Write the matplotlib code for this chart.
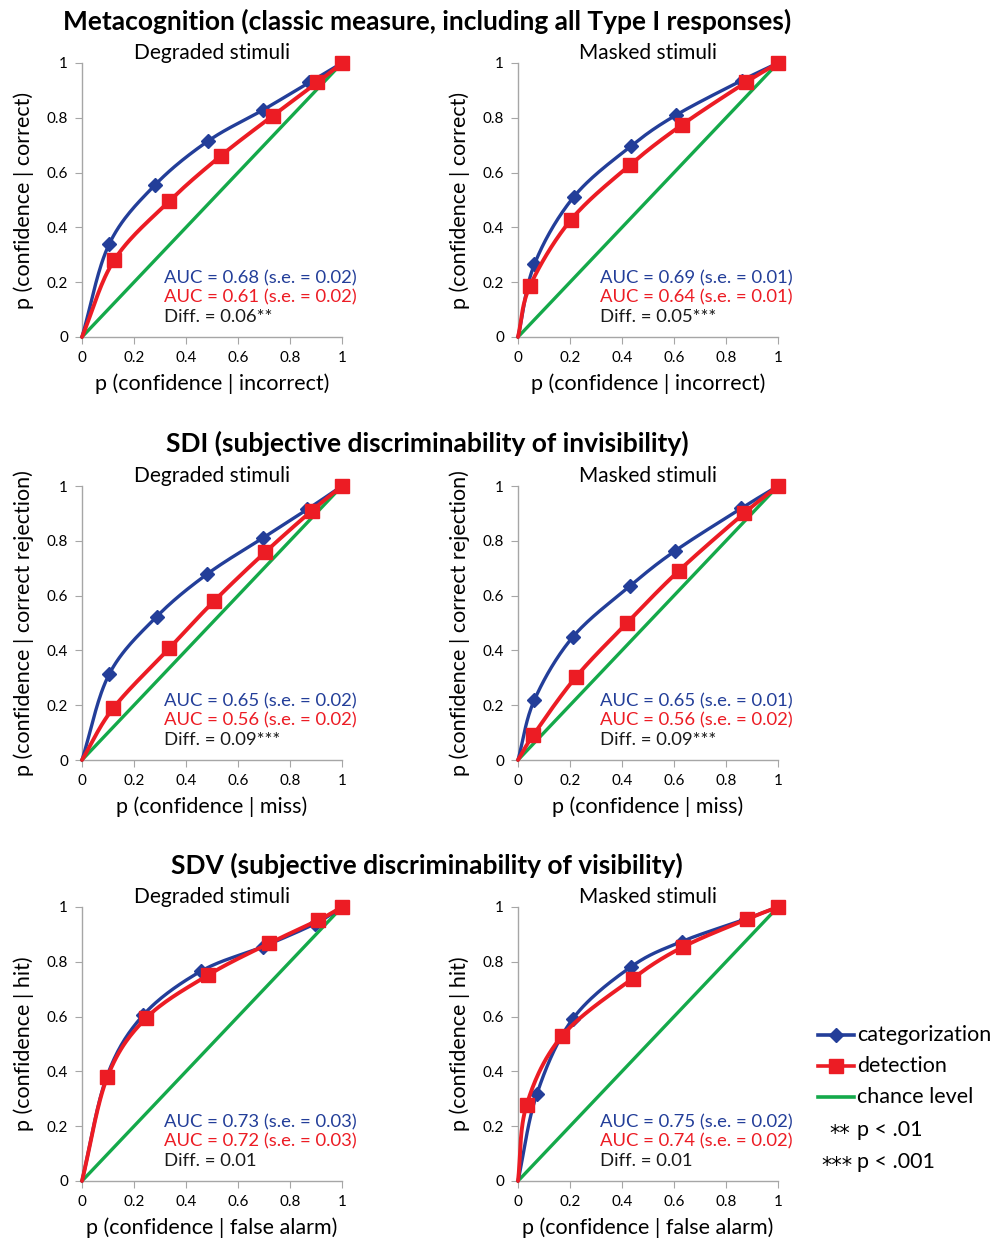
import numpy as np
import matplotlib
matplotlib.use("Agg")
import matplotlib.pyplot as plt

plt.rcParams['font.family'] = ['Lato', 'DejaVu Sans']

BLUE = '#233E99'
RED = '#EC1C24'
GREEN = '#14A94A'
AXGREY = '#A6A6A6'

# ---------------- data ----------------
row_titles = ["Metacognition (classic measure, including all Type I responses)",
              "SDI (subjective discriminability of invisibility)",
              "SDV (subjective discriminability of visibility)"]
col_titles = ["Degraded stimuli", "Masked stimuli"]
ylabels = ["p (confidence | correct)", "p (confidence | correct rejection)", "p (confidence | hit)"]
xlabels = ["p (confidence | incorrect)", "p (confidence | miss)", "p (confidence | false alarm)"]
tick_vals = [0, 0.2, 0.4, 0.6, 0.8, 1]
tick_labels = ['0', '0.2', '0.4', '0.6', '0.8', '1']

# Metacognition, degraded
meta_deg_cat_x = [0, 0.105, 0.281, 0.486, 0.695, 0.874, 1]
meta_deg_cat_y = [0, 0.340, 0.555, 0.716, 0.828, 0.929, 1]
meta_deg_det_x = [0, 0.124, 0.336, 0.535, 0.733, 0.905, 1]
meta_deg_det_y = [0, 0.281, 0.496, 0.662, 0.807, 0.929, 1]
# Metacognition, masked
meta_msk_cat_x = [0, 0.063, 0.215, 0.435, 0.608, 0.860, 1]
meta_msk_cat_y = [0, 0.265, 0.512, 0.697, 0.810, 0.936, 1]
meta_msk_det_x = [0, 0.046, 0.203, 0.431, 0.630, 0.876, 1]
meta_msk_det_y = [0, 0.186, 0.427, 0.628, 0.774, 0.929, 1]
# SDI, degraded
sdi_deg_cat_x = [0, 0.105, 0.287, 0.482, 0.697, 0.867, 1]
sdi_deg_cat_y = [0, 0.314, 0.523, 0.679, 0.811, 0.915, 1]
sdi_deg_det_x = [0, 0.120, 0.336, 0.509, 0.704, 0.883, 1]
sdi_deg_det_y = [0, 0.189, 0.408, 0.581, 0.758, 0.909, 1]
# SDI, masked
sdi_msk_cat_x = [0, 0.063, 0.210, 0.431, 0.604, 0.858, 1]
sdi_msk_cat_y = [0, 0.219, 0.448, 0.635, 0.763, 0.918, 1]
sdi_msk_det_x = [0, 0.059, 0.222, 0.420, 0.619, 0.869, 1]
sdi_msk_det_y = [0, 0.091, 0.302, 0.501, 0.691, 0.900, 1]
# SDV, degraded
sdv_deg_cat_x = [0, 0.095, 0.236, 0.458, 0.695, 0.896, 1]
sdv_deg_cat_y = [0, 0.380, 0.606, 0.766, 0.855, 0.939, 1]
sdv_deg_det_x = [0, 0.097, 0.246, 0.486, 0.719, 0.909, 1]
sdv_deg_det_y = [0, 0.378, 0.594, 0.752, 0.867, 0.952, 1]
# SDV, masked
sdv_msk_cat_x = [0, 0.072, 0.210, 0.435, 0.630, 0.876, 1]
sdv_msk_cat_y = [0, 0.316, 0.591, 0.782, 0.874, 0.956, 1]
sdv_msk_det_x = [0, 0.033, 0.170, 0.441, 0.636, 0.882, 1]
sdv_msk_det_y = [0, 0.277, 0.530, 0.739, 0.855, 0.956, 1]

auc_cat = [["0.68", "0.69"], ["0.65", "0.65"], ["0.73", "0.75"]]
se_cat = [["0.02", "0.01"], ["0.02", "0.01"], ["0.03", "0.02"]]
auc_det = [["0.61", "0.64"], ["0.56", "0.56"], ["0.72", "0.74"]]
se_det = [["0.02", "0.01"], ["0.02", "0.02"], ["0.03", "0.02"]]
diffs = [["0.06**", "0.05***"], ["0.09***", "0.09***"], ["0.01", "0.01"]]

series = [
    [((meta_deg_cat_x, meta_deg_cat_y), (meta_deg_det_x, meta_deg_det_y)),
     ((meta_msk_cat_x, meta_msk_cat_y), (meta_msk_det_x, meta_msk_det_y))],
    [((sdi_deg_cat_x, sdi_deg_cat_y), (sdi_deg_det_x, sdi_deg_det_y)),
     ((sdi_msk_cat_x, sdi_msk_cat_y), (sdi_msk_det_x, sdi_msk_det_y))],
    [((sdv_deg_cat_x, sdv_deg_cat_y), (sdv_deg_det_x, sdv_deg_det_y)),
     ((sdv_msk_cat_x, sdv_msk_cat_y), (sdv_msk_det_x, sdv_msk_det_y))],
]


def smooth(xs, ys, n=30):
    """Catmull-Rom curve through the points (rendering like Excel's smoothed line)."""
    P = np.column_stack([xs, ys]).astype(float)
    P = np.vstack([P[0] - (P[1] - P[0]), P, P[-1] + (P[-1] - P[-2])])
    out = []
    for i in range(1, len(P) - 2):
        p0, p1, p2, p3 = P[i - 1], P[i], P[i + 1], P[i + 2]
        c1 = p1 + (p2 - p0) / 6.0
        c2 = p2 - (p3 - p1) / 6.0
        t = np.linspace(0, 1, n)[:, None]
        seg = ((1 - t) ** 3) * p1 + 3 * ((1 - t) ** 2) * t * c1 + 3 * (1 - t) * t ** 2 * c2 + t ** 3 * p2
        out.append(seg if i == 1 else seg[1:])
    S = np.vstack(out)
    return S[:, 0], S[:, 1]


W, H = 1003, 1239
fig = plt.figure(figsize=(W / 100, H / 100), dpi=100)

ax_left = [82, 518]
ax_top = [63, 486, 907]
ax_w, ax_h = 260, 274
title_y = [21, 443, 865]

for r in range(3):
    fig.text(427 / W, 1 - title_y[r] / H, row_titles[r], ha='center', va='center',
             fontsize=19, fontweight='bold')
    for c in range(2):
        ax = fig.add_axes([ax_left[c] / W, 1 - (ax_top[r] + ax_h) / H, ax_w / W, ax_h / H])
        ax.set_xlim(0, 1)
        ax.set_ylim(0, 1)
        for s in ['top', 'right']:
            ax.spines[s].set_visible(False)
        for s in ['left', 'bottom']:
            ax.spines[s].set_color(AXGREY)
            ax.spines[s].set_linewidth(1.0)
        ax.set_xticks(tick_vals)
        ax.set_xticklabels(tick_labels)
        ax.set_yticks(tick_vals)
        ax.set_yticklabels(tick_labels)
        ax.tick_params(direction='out', length=5, color=AXGREY, labelsize=11, pad=5)
        ax.set_xlabel(xlabels[r], fontsize=15.5, labelpad=6)
        ax.set_ylabel(ylabels[r], fontsize=15.5, labelpad=9)
        ax.set_title(col_titles[c], fontsize=15, pad=1)

        (cx, cy), (dx, dy) = series[r][c]
        ax.plot([0, 1], [0, 1], color=GREEN, lw=2.4, zorder=2, clip_on=False)
        sx, sy = smooth(cx, cy)
        ax.plot(sx, sy, color=BLUE, lw=2.4, zorder=3, clip_on=False, solid_capstyle='round')
        ax.plot(cx[1:], cy[1:], ls='none', marker='D', ms=7.5, color=BLUE, zorder=3, clip_on=False)
        sx, sy = smooth(dx, dy)
        ax.plot(sx, sy, color=RED, lw=2.8, zorder=4, clip_on=False, solid_capstyle='round')
        ax.plot(dx[1:], dy[1:], ls='none', marker='s', ms=10, color=RED, zorder=4, clip_on=False)

        ax.text(0.315, 0.215, f"AUC = {auc_cat[r][c]} (s.e. = {se_cat[r][c]})", color=BLUE,
                fontsize=13.3, va='center', ha='left')
        ax.text(0.315, 0.145, f"AUC = {auc_det[r][c]} (s.e. = {se_det[r][c]})", color=RED,
                fontsize=13.3, va='center', ha='left')
        ax.text(0.315, 0.073, f"Diff. = {diffs[r][c]}", color='#1a1a1a',
                fontsize=13.3, va='center', ha='left')

# legend
leg = fig.add_axes([0, 0, 1, 1])
leg.set_xlim(0, W)
leg.set_ylim(H, 0)
leg.axis('off')
leg_items = [("categorization", BLUE, 'D', 7.5), ("detection", RED, 's', 10), ("chance level", GREEN, None, 0)]
leg_y = [1035, 1066, 1097]
for (lab, col, mk, ms), yy in zip(leg_items, leg_y):
    leg.plot([818, 854], [yy, yy], color=col, lw=2.6)
    if mk:
        leg.plot([836], [yy], marker=mk, ms=ms, color=col)
    leg.text(857, yy, lab, fontsize=15.5, va='center', ha='left')
leg.text(850, 1134, "**", fontsize=15, va='center', ha='right', family='DejaVu Sans')
leg.text(857, 1130, "p < .01", fontsize=15.5, va='center', ha='left')
leg.text(853, 1166, "***", fontsize=15, va='center', ha='right', family='DejaVu Sans')
leg.text(857, 1162, "p < .001", fontsize=15.5, va='center', ha='left')

fig.savefig("out.png", dpi=100)
